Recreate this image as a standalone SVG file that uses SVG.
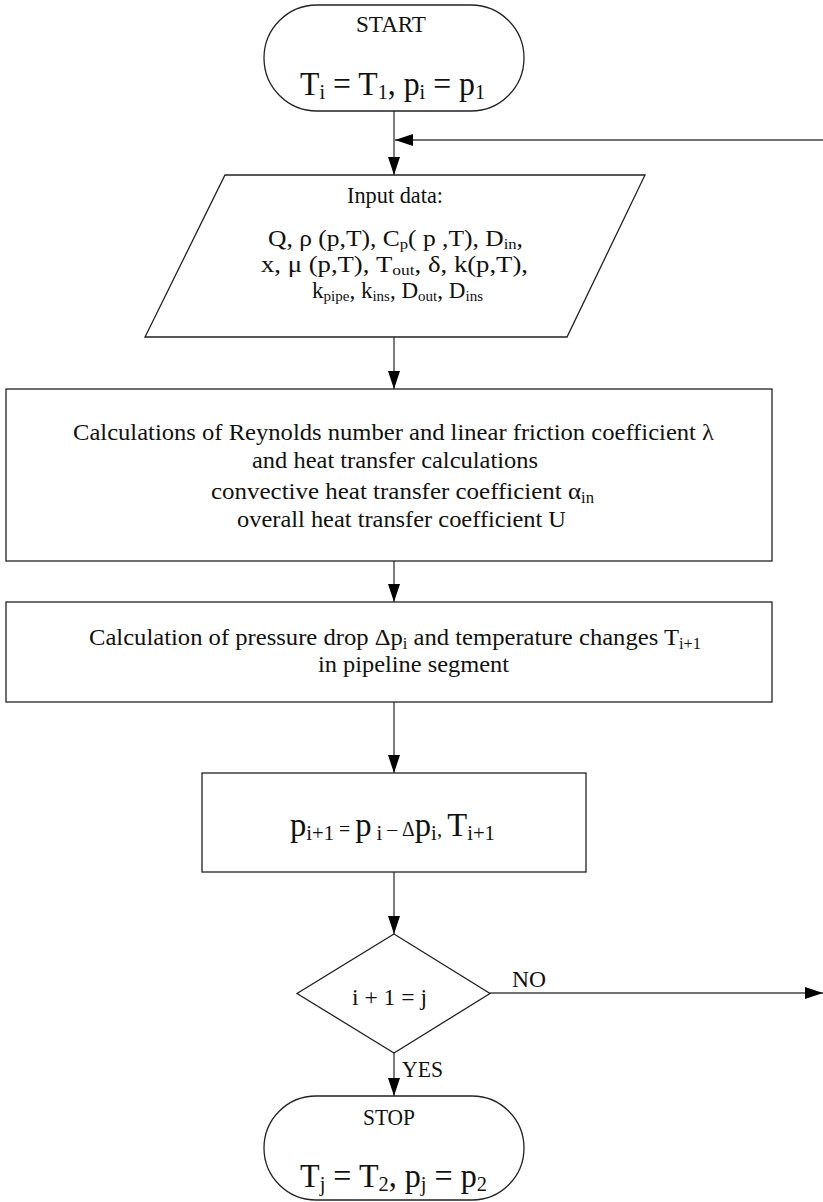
<svg xmlns="http://www.w3.org/2000/svg" width="823" height="1202" viewBox="0 0 823 1202">
<style>
.box{fill:#fff;stroke:#222;stroke-width:1.3}
.con{fill:none;stroke:#444;stroke-width:1.4}
text{font-family:"Liberation Serif","Times New Roman",serif;fill:#111}
.t23{font-size:23px}
.t24{font-size:24px}
.lbl{font-size:23px}
.big{font-size:33px}
.mid{font-size:33px}
</style>
<defs>
<marker id="arr" markerWidth="18" markerHeight="12" refX="18" refY="6" orient="auto" markerUnits="userSpaceOnUse">
<path d="M0,0 L18,6 L0,12 Z" fill="#000"/>
</marker>
</defs>
<rect width="823" height="1202" fill="#fff"/>

<g id="connectors">
<line class="con" x1="394" y1="111" x2="394" y2="175" marker-end="url(#arr)"/>
<line class="con" x1="823" y1="140" x2="395" y2="140" marker-end="url(#arr)"/>
<line class="con" x1="394" y1="337" x2="394" y2="389" marker-end="url(#arr)"/>
<line class="con" x1="394" y1="561" x2="394" y2="602" marker-end="url(#arr)"/>
<line class="con" x1="394" y1="702" x2="394" y2="773" marker-end="url(#arr)"/>
<line class="con" x1="394" y1="872" x2="394" y2="934" marker-end="url(#arr)"/>
<line class="con" x1="394" y1="1053" x2="394" y2="1096" marker-end="url(#arr)"/>
<line class="con" x1="490" y1="993" x2="823" y2="993" marker-end="url(#arr)"/>
<text class="lbl" x="512" y="987" textLength="34" lengthAdjust="spacingAndGlyphs">NO</text>
<text class="lbl" x="402" y="1077" textLength="41" lengthAdjust="spacingAndGlyphs">YES</text>
</g>

<g id="start">
<rect class="box" x="264" y="5" width="260" height="106" rx="53" ry="53"/>
<text class="t24" x="356" y="32" textLength="70" lengthAdjust="spacingAndGlyphs">START</text>
<text class="big" x="300" y="95" textLength="185" lengthAdjust="spacingAndGlyphs">T<tspan font-size="21" dy="4">i</tspan><tspan dy="-4"> = T</tspan><tspan font-size="21" dy="4">1</tspan><tspan dy="-4">, p</tspan><tspan font-size="21" dy="4">i</tspan><tspan dy="-4"> = p</tspan><tspan font-size="21" dy="4">1</tspan></text>
</g>

<g id="input">
<polygon class="box" points="225,175 645,175 567,337 145,337"/>
<text class="t23" x="347" y="203" textLength="96" lengthAdjust="spacingAndGlyphs">Input data:</text>
<text class="t23" x="268" y="246" textLength="255" lengthAdjust="spacingAndGlyphs">Q, ρ (p,T),  C<tspan font-size="15" dy="3">p</tspan><tspan dy="-3">( p ,T),  D</tspan><tspan font-size="15" dy="3">in</tspan><tspan dy="-3">,</tspan></text>
<text class="t23" x="261" y="272" textLength="267" lengthAdjust="spacingAndGlyphs">x, μ (p,T), T<tspan font-size="15" dy="3">out</tspan><tspan dy="-3">, δ, k(p,T),</tspan></text>
<text class="t23" x="312" y="298" textLength="171" lengthAdjust="spacingAndGlyphs">k<tspan font-size="15" dy="3">pipe</tspan><tspan dy="-3">, k</tspan><tspan font-size="15" dy="3">ins</tspan><tspan dy="-3">, D</tspan><tspan font-size="15" dy="3">out</tspan><tspan dy="-3">, D</tspan><tspan font-size="15" dy="3">ins</tspan></text>
</g>

<g id="calc1">
<rect class="box" x="6" y="389" width="766" height="172"/>
<text class="t24" x="73" y="440" textLength="641" lengthAdjust="spacingAndGlyphs">Calculations of Reynolds number and linear friction coefficient λ</text>
<text class="t24" x="252" y="468" textLength="286" lengthAdjust="spacingAndGlyphs">and heat transfer calculations</text>
<text class="t24" x="211" y="499" textLength="383" lengthAdjust="spacingAndGlyphs">convective heat transfer coefficient  α<tspan font-size="16" dy="4">in</tspan></text>
<text class="t24" x="237" y="527" textLength="329" lengthAdjust="spacingAndGlyphs">overall heat transfer coefficient U</text>
</g>

<g id="calc2">
<rect class="box" x="6" y="602" width="766" height="100"/>
<text class="t24" x="89" y="645" textLength="612" lengthAdjust="spacingAndGlyphs">Calculation of pressure drop Δp<tspan font-size="16" dy="4">i</tspan><tspan dy="-4"> and temperature changes T</tspan><tspan font-size="16" dy="4">i+1</tspan></text>
<text class="t24" x="318" y="672" textLength="191" lengthAdjust="spacingAndGlyphs">in pipeline segment</text>
</g>

<g id="update">
<rect class="box" x="202" y="773" width="384" height="99"/>
<text class="mid" x="290" y="836" textLength="205" lengthAdjust="spacingAndGlyphs">p<tspan font-size="21" dy="4">i+1</tspan><tspan font-size="20" dy="-4"> = </tspan><tspan>p</tspan><tspan font-size="21" dy="4"> i</tspan><tspan font-size="20" dy="-4"> – Δ</tspan><tspan>p</tspan><tspan font-size="21" dy="4">i</tspan><tspan font-size="21" dy="-4">, </tspan><tspan>T</tspan><tspan font-size="21" dy="4">i+1</tspan></text>
</g>

<g id="decision">
<polygon class="box" points="394,934 490,993.5 394,1053 297,993.5"/>
<text class="lbl" x="352" y="1005" textLength="75" lengthAdjust="spacingAndGlyphs">i + 1 = j</text>
</g>

<g id="stop">
<rect class="box" x="264" y="1096" width="260" height="104" rx="52" ry="52"/>
<text class="t24" x="363" y="1125" textLength="52" lengthAdjust="spacingAndGlyphs">STOP</text>
<text class="big" x="300" y="1187" textLength="187" lengthAdjust="spacingAndGlyphs">T<tspan font-size="21" dy="4">j</tspan><tspan dy="-4"> = T</tspan><tspan font-size="21" dy="4">2</tspan><tspan dy="-4">, p</tspan><tspan font-size="21" dy="4">j</tspan><tspan dy="-4"> = p</tspan><tspan font-size="21" dy="4">2</tspan></text>
</g>
</svg>
